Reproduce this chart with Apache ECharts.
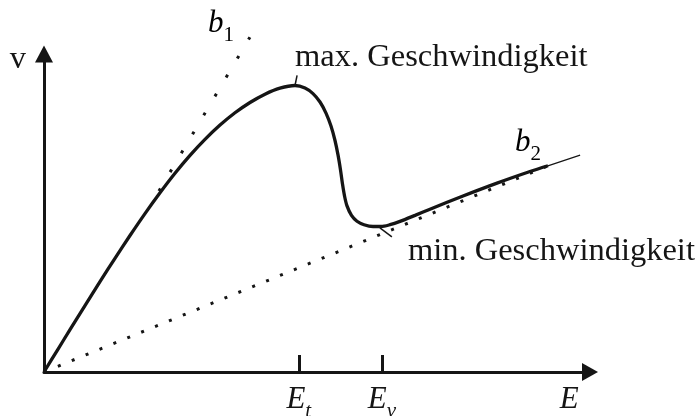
<!DOCTYPE html>
<html>
<head>
<meta charset="utf-8">
<script src="https://cdn.jsdelivr.net/npm/echarts@6/dist/echarts.min.js"></script>
<style>
  html, body { margin: 0; padding: 0; background: #fff; }
  #chart { width: 698px; height: 416px; }
</style>
</head>
<body>
<div id="chart"></div>
<script>
// Drift velocity v against field strength E (arbitrary units)
const curveE = [0.000, 0.250, 0.500, 0.788, 1.077, 1.365, 1.654, 1.942, 2.231, 2.519,
                2.808, 3.096, 3.385, 3.673, 3.962, 4.250, 4.538, 4.827, 5.019, 5.173,
                5.308, 5.423, 5.519, 5.596, 5.654, 5.702, 5.740, 5.779, 5.827, 5.913,
                6.019, 6.154, 6.327, 6.481, 6.654, 6.846, 7.135, 7.423, 8.058, 8.712,
                9.346, 9.692];
const curveV = [0.000, 0.667, 1.330, 2.088, 2.840, 3.575, 4.292, 4.981, 5.635, 6.248,
                6.811, 7.314, 7.764, 8.151, 8.475, 8.736, 8.925, 9.009, 8.931, 8.755,
                8.491, 8.142, 7.733, 7.280, 6.827, 6.355, 5.915, 5.538, 5.223, 4.925,
                4.742, 4.632, 4.575, 4.575, 4.632, 4.736, 4.925, 5.119, 5.535, 5.940,
                6.305, 6.487];

// low-field slope b1 (dotted), high-field slope b2 (dotted from the origin)
const b1E = [2.21, 3.96];
const b1V = [5.69, 10.53];
const b2E = [0, 9.69];
const b2V = [0, 6.48];
// thin continuation past the end of the curve
const tailE = [9.69, 10.31];
const tailV = [6.48, 6.82];

// short pointer strokes for the two annotations
const maxPtrE = [4.827, 4.867];
const maxPtrV = [9.01, 9.33];
const minPtrE = [6.46, 6.69];
const minPtrV = [4.53, 4.25];

// field marks on the E axis
const tickE = [4.9, 6.5];
const labelE = [4.9, 6.5, 10.1];
const labelSub = ['t', 'v', ''];

const INK = '#151515';
const SERIF = '"Liberation Serif", "DejaVu Serif", serif';

const zip = (xs, ys) => xs.map((x, i) => [x, ys[i]]);

const richMath = {
  m: { fontFamily: SERIF, fontSize: 31, fontStyle: 'italic', color: INK,
       lineHeight: 38, verticalAlign: 'top' },
  s: { fontFamily: SERIF, fontSize: 21, fontStyle: 'italic', color: INK,
       lineHeight: 20, verticalAlign: 'bottom' },
  n: { fontFamily: SERIF, fontSize: 21, color: INK,
       lineHeight: 20, verticalAlign: 'bottom' }
};

const chart = echarts.init(document.getElementById('chart'), null, { renderer: 'canvas' });

chart.setOption({
  backgroundColor: '#fff',
  animation: false,
  grid: { left: 44, right: 108, top: 54, bottom: 44, containLabel: false, outerBoundsMode: 'none' },
  xAxis: {
    type: 'value', min: 0, max: 10.5,
    axisLine: { show: true, onZero: false, symbol: ['none', 'triangle'], symbolSize: [18, 16],
                lineStyle: { color: INK, width: 3 } },
    axisTick: { show: true, inside: true, length: 17, customValues: tickE,
                lineStyle: { color: INK, width: 3 } },
    axisLabel: {
      show: true, margin: 12, customValues: labelE,
      formatter: function (v) {
        let k = 0;
        labelE.forEach((e, i) => { if (Math.abs(e - v) < 1e-6) k = i; });
        return '{m|E}' + (labelSub[k] ? '{s|' + labelSub[k] + '}' : '');
      },
      rich: richMath
    },
    splitLine: { show: false }
  },
  yAxis: {
    type: 'value', min: 0, max: 10,
    axisLine: { show: true, onZero: false, symbol: ['none', 'triangle'], symbolSize: [18, 17],
                lineStyle: { color: INK, width: 3 } },
    axisTick: { show: false },
    axisLabel: { show: false },
    splitLine: { show: false }
  },
  series: [
    {
      name: 'b2', type: 'line', data: zip(b2E, b2V), showSymbol: false, silent: true,
      lineStyle: { color: INK, width: 3, type: [3, 12] }, z: 2
    },
    {
      name: 'b1', type: 'line', data: zip(b1E, b1V), showSymbol: false, silent: true, clip: false,
      lineStyle: { color: INK, width: 3, type: [3, 19] }, z: 2
    },
    {
      name: 'tail', type: 'line', data: zip(tailE, tailV), showSymbol: false, silent: true,
      lineStyle: { color: INK, width: 1.2 }, z: 3
    },
    {
      name: 'v(E)', type: 'line', data: zip(curveE, curveV), smooth: 0.3,
      showSymbol: false, silent: true,
      lineStyle: { color: INK, width: 3.3 }, z: 4
    },
    {
      name: 'maxPtr', type: 'line', data: zip(maxPtrE, maxPtrV), showSymbol: false, silent: true,
      lineStyle: { color: INK, width: 1.5 }, z: 3
    },
    {
      name: 'minPtr', type: 'line', data: zip(minPtrE, minPtrV), showSymbol: false, silent: true,
      lineStyle: { color: INK, width: 1.5 }, z: 3
    }
  ]
});

// Text annotations, placed relative to the points they describe
const px = p => chart.convertToPixel({ gridIndex: 0 }, p);
const maxTip = px([maxPtrE[1], maxPtrV[1]]);
const minTip = px([minPtrE[1], minPtrV[1]]);
const b1Top = px([b1E[1], b1V[1]]);
const b2End = px([b2E[1], b2V[1]]);
const yTop = px([0, 10]);

const plain = (text, x, y, align) => ({
  type: 'text', x: x, y: y, silent: true,
  style: { text: text, fill: INK, font: '32.5px ' + SERIF, textAlign: align || 'left', textVerticalAlign: 'middle' }
});
const math = (text, x, y) => ({
  type: 'text', x: x, y: y, silent: true,
  style: { text: text, rich: richMath, textAlign: 'left', textVerticalAlign: 'top' }
});

chart.setOption({
  graphic: [
    plain('v', yTop[0] - 18, yTop[1] + 5, 'right'),
    plain('max. Geschwindigkeit', maxTip[0] - 2, maxTip[1] - 18),
    plain('min. Geschwindigkeit', minTip[0] + 16, minTip[1] + 15),
    math('{m|b}{n|1}', b1Top[0] - 42, b1Top[1] - 29),
    math('{m|b}{n|2}', b2End[0] - 33, b2End[1] - 39)
  ]
});
</script>
</body>
</html>
